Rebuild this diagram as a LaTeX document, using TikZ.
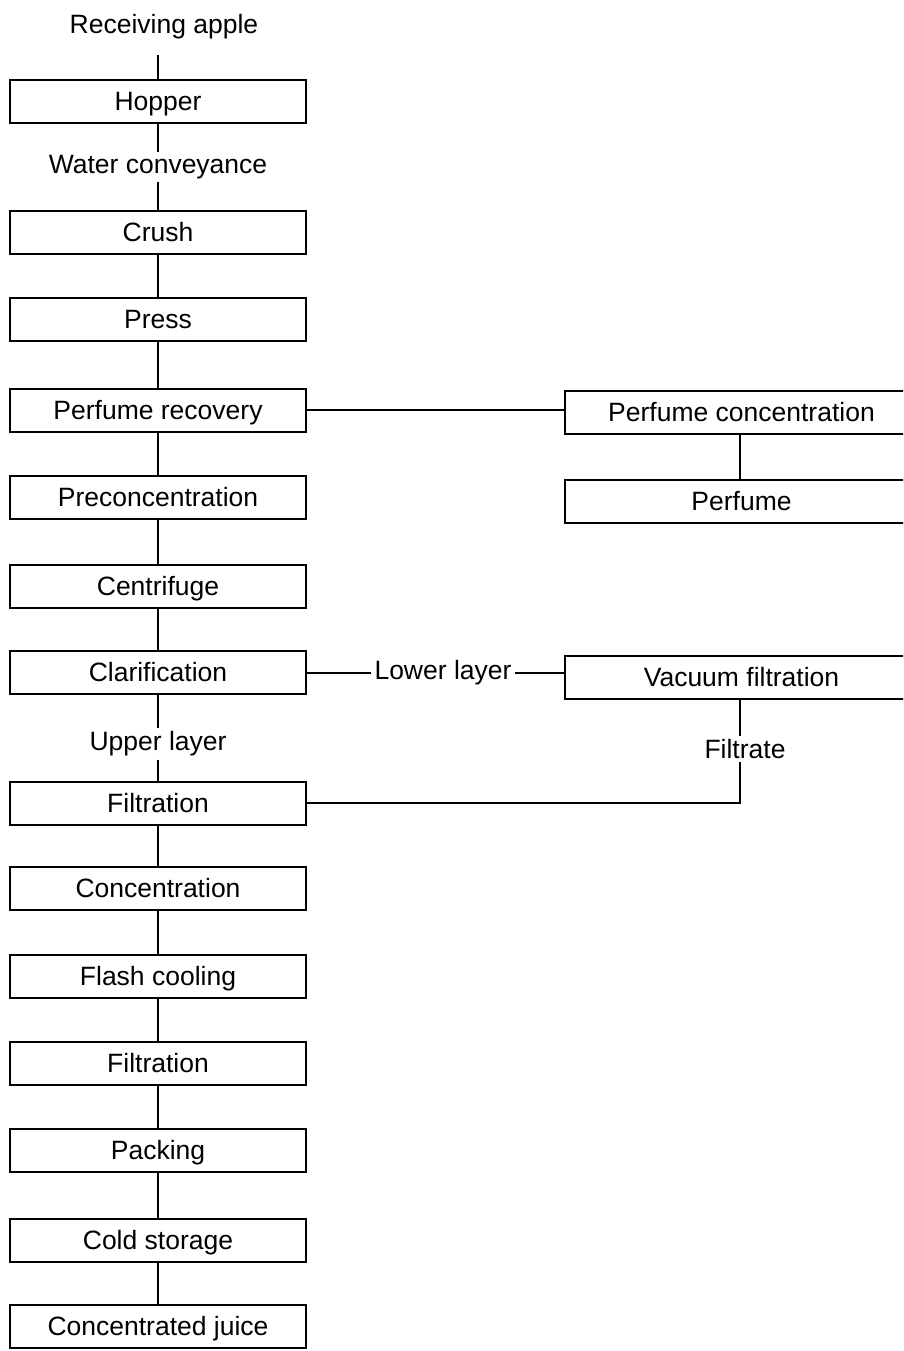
\documentclass[tikz,border=0pt]{standalone}
\usepackage{fontspec}
\setmainfont{Liberation Sans}
\begin{document}
\begin{tikzpicture}[x=1pt,y=-1pt,
  every node/.style={font=\fontsize{26.5}{30}\selectfont},
  lbox/.style={draw, line width=2pt, minimum width=296pt, minimum height=43pt, inner sep=0pt, text height=19pt, text depth=1pt},
  rbox/.style={draw, line width=2pt, minimum width=353pt, minimum height=43pt, inner sep=0pt, text height=19pt, text depth=1pt},
  lbl/.style={inner sep=3pt},
  conn/.style={line width=2pt}]
\useasboundingbox (0,0) rectangle (903,1351);
\clip (0,0) rectangle (903,1351);
% labels
\node[lbl] (recv) at (164,27) {Receiving apple};
\node[lbl] (water) at (158,167) {Water conveyance};
\node[lbl] (upper) at (158,744) {Upper layer};
\node[lbl] (lower) at (443,673) {Lower layer};
\node[lbl] (filtrate) at (745,749) {Filtrate};
% left chain
\node[lbox] (hopper) at (158,102) {Hopper};
\node[lbox] (crush) at (158,232) {Crush};
\node[lbox] (press) at (158,319) {Press};
\node[lbox] (perfrec) at (158,410) {Perfume recovery};
\node[lbox] (precon) at (158,497) {Preconcentration};
\node[lbox] (centri) at (158,586) {Centrifuge};
\node[lbox] (clar) at (158,672) {Clarification};
\node[lbox] (filt1) at (158,803) {Filtration};
\node[lbox] (conc) at (158,888) {Concentration};
\node[lbox] (flash) at (158,976) {Flash cooling};
\node[lbox] (filt2) at (158,1063) {Filtration};
\node[lbox] (pack) at (158,1150) {Packing};
\node[lbox] (cold) at (158,1240) {Cold storage};
\node[lbox] (juice) at (158,1326) {Concentrated juice};
% right boxes
\node[rbox] (perfconc) at (741.5,412) {Perfume concentration};
\node[rbox] (perfume) at (741.5,501) {Perfume};
\node[rbox] (vacuum) at (741.5,677) {Vacuum filtration};
\coordinate (fcorner) at (740,803);
% connectors
\draw[conn] (recv.south -| hopper.north) ++(0,12) -- (hopper.north);
\draw[conn] (hopper.south) -- (water.north -| hopper.south);
\draw[conn] (water.south -| crush.north) -- (crush.north);
\draw[conn] (crush) -- (press);
\draw[conn] (press) -- (perfrec);
\draw[conn] (perfrec) -- (precon);
\draw[conn] (precon) -- (centri);
\draw[conn] (centri) -- (clar);
\draw[conn] (clar.south) -- (upper.north -| clar.south);
\draw[conn] (upper.south -| filt1.north) -- (filt1.north);
\draw[conn] (filt1) -- (conc);
\draw[conn] (conc) -- (flash);
\draw[conn] (flash) -- (filt2);
\draw[conn] (filt2) -- (pack);
\draw[conn] (pack) -- (cold);
\draw[conn] (cold) -- (juice);
\draw[conn] (perfrec.east) -- (perfrec.east -| perfconc.west);
\draw[conn] (perfconc.south -| 740,0) -- (perfume.north -| 740,0);
\draw[conn] (clar.east |- lower.west) -- (lower.west);
\draw[conn] (lower.east) -- (vacuum.west |- lower.east);
\draw[conn] (vacuum.south -| fcorner) -- (filtrate.north -| fcorner);
\draw[conn] (filtrate.south -| fcorner) -- (fcorner) -- (filt1.east);
\end{tikzpicture}
\end{document}
